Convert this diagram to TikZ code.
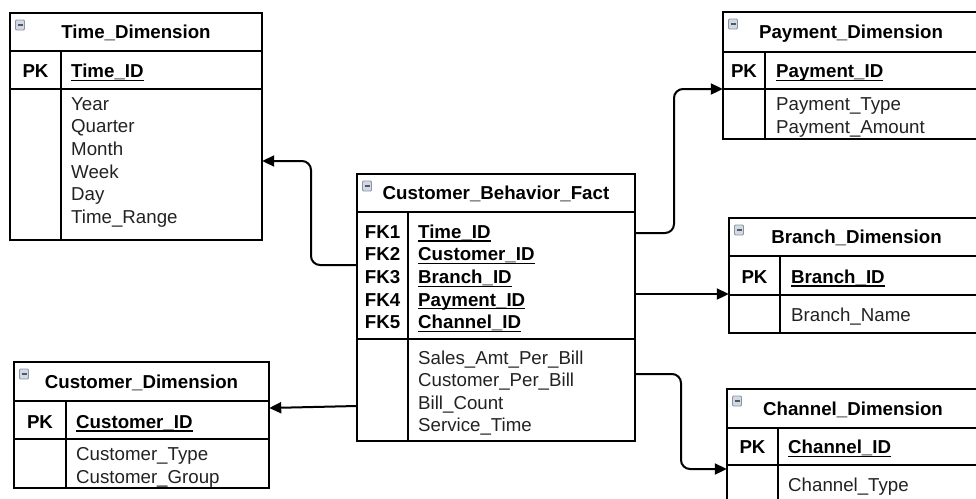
\documentclass[tikz,border=0pt]{standalone}
\usepackage{fontspec}
\setmainfont{Liberation Sans}
\usetikzlibrary{arrows.meta,positioning,fit}

\definecolor{iconfill}{HTML}{D3D9E3}
\definecolor{iconline}{HTML}{8A94A6}
\definecolor{fieldtext}{HTML}{222222}
\newcommand{\erfont}{\fontsize{18.7}{22.7}\selectfont}

\tikzset{
  tbl/.style={line width=2.2pt},
  ttl/.style={font=\erfont\bfseries, inner sep=0pt, text height=13.4pt, text depth=0pt},
  keytag/.style={ttl, anchor=center},
  fld/.style={anchor=west, inner sep=0pt, text height=13.4pt, text depth=0pt, text=fieldtext},
  pkey/.style={fld, font=\erfont\bfseries, text=black,
    append after command={\pgfextra{\let\keynode\tikzlastnode}
      ([yshift=-2.6pt]\keynode.south west) edge[line width=1.3pt] ([yshift=-2.6pt]\keynode.south east)}},
  conn/.style={line width=2pt, rounded corners=9pt, -{Triangle[length=12pt,width=11pt]}},
}

% name, x0, y0, x1, divider, title bottom, key bottom, y1, title
\newcommand{\ertable}[9]{%
  \node[inner sep=0pt, fit={(#2,#3) (#4,#8)}] (#1) {};
  \draw[tbl] (#2,#3) rectangle (#4,#8) (#2,#6) -- (#4,#6) (#2,#7) -- (#4,#7) (#5,#6) -- (#5,#8);
  \draw[fill=iconfill, draw=iconline, line width=0.8pt, rounded corners=1pt] (#2+5.5,#3+7) rectangle ++(9,10);
  \draw[iconline!60!black, line width=1.2pt] (#2+7.5,#3+12) -- ++(5,0);
  \node[ttl] (#1-title) at ({(#2+#4)/2},{(#3+#6)/2}) {#9};
}

\begin{document}
\begin{tikzpicture}[x=1pt, y=-1pt, font=\erfont]
\useasboundingbox (0,0) rectangle (976,498);
\clip (0,0) rectangle (976,498);

% dimensions
\ertable{time}{10}{13}{262}{61}{51}{89}{240}{Time\_Dimension}
\node[keytag] (time-pk) at (35.5,71) {PK};
\node[pkey] (time-id) at (71,71) {Time\_ID};
\foreach \f [count=\i] in {Year,Quarter,Month,Week,Day,Time\_Range}
  \node[fld] (time-f\i) at (71,{103.3+22.7*(\i-1)}) {\f};

\ertable{customer}{14}{362}{269}{66}{401}{439}{488}{Customer\_Dimension}
\node[keytag] (customer-pk) at (40,421.5) {PK};
\node[pkey] (customer-id) at (76,421.5) {Customer\_ID};
\foreach \f [count=\i] in {Customer\_Type,Customer\_Group}
  \node[fld] (customer-f\i) at (76,{454+22.7*(\i-1)}) {\f};

\ertable{payment}{723}{12}{979}{765}{52}{89}{139}{Payment\_Dimension}
\node[keytag] (payment-pk) at (744,71) {PK};
\node[pkey] (payment-id) at (776,71) {Payment\_ID};
\foreach \f [count=\i] in {Payment\_Type,Payment\_Amount}
  \node[fld] (payment-f\i) at (776,{104+22.5*(\i-1)}) {\f};

\ertable{branch}{729}{218}{984}{780}{256}{295}{333}{Branch\_Dimension}
\node[keytag] (branch-pk) at (754.5,276.5) {PK};
\node[pkey] (branch-id) at (791,276.5) {Branch\_ID};
\node[fld] (branch-f1) at (791,314.3) {Branch\_Name};

\ertable{channel}{727}{389}{979}{778}{428}{465}{520}{Channel\_Dimension}
\node[keytag] (channel-pk) at (752.5,447) {PK};
\node[pkey] (channel-id) at (788,447) {Channel\_ID};
\node[fld] (channel-f1) at (788,485) {Channel\_Type};

% fact
\ertable{fact}{357}{174}{635}{408}{212}{339}{441}{Customer\_Behavior\_Fact}
\foreach \k/\f [count=\i] in {FK1/Time\_ID,FK2/Customer\_ID,FK3/Branch\_ID,FK4/Payment\_ID,FK5/Channel\_ID} {
  \node[keytag] (fact-fk\i) at (382.5,{231.5+22.6*(\i-1)}) {\k};
  \node[pkey] (fact-k\i) at (418,{231.5+22.6*(\i-1)}) {\f};
}
\foreach \f [count=\i] in {Sales\_Amt\_Per\_Bill,Customer\_Per\_Bill,Bill\_Count,Service\_Time}
  \node[fld] (fact-m\i) at (418,{357.5+22.4*(\i-1)}) {\f};

% links
\draw[conn] (fact.west |- 0,265) -- (311,265) -- (311,161) -- (time.east |- 0,161);
\draw[conn] (fact.west |- 0,406) -- (customer.east |- 0,408);
\draw[conn] (fact.east |- 0,233) -- (674,233) -- (674,89) -- (payment.west |- 0,89);
\draw[conn] (fact.east |- 0,294) -- (branch.west |- 0,294);
\draw[conn] (fact.east |- 0,374) -- (681,374) -- (681,469) -- (channel.west |- 0,469);
\end{tikzpicture}
\end{document}
